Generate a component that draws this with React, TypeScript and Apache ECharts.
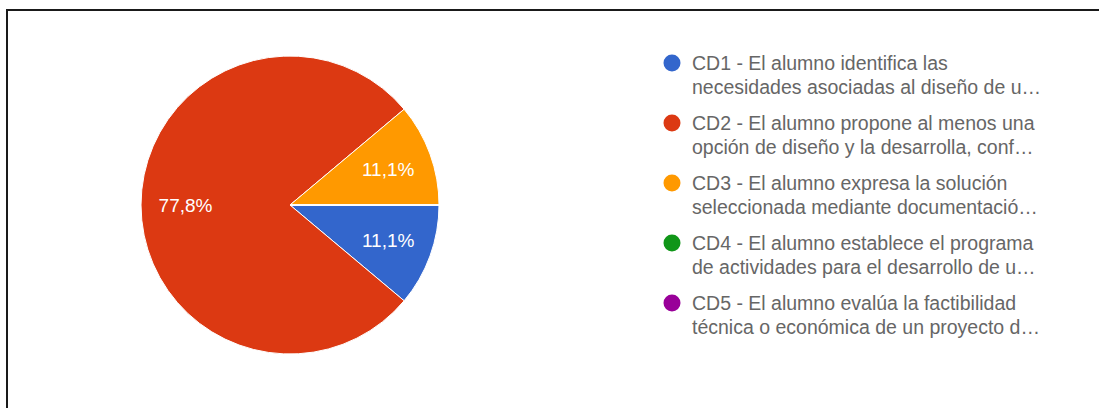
import React, { useEffect, useRef } from "react";
import * as echarts from "echarts";

const categories = ["CD1", "CD2", "CD3", "CD4", "CD5"];
const legendLine1 = [
  "CD1 - El alumno identifica las",
  "CD2 - El alumno propone al menos una",
  "CD3 - El alumno expresa la solución",
  "CD4 - El alumno establece el programa",
  "CD5 - El alumno evalúa la factibilidad",
];
const legendLine2 = [
  "necesidades asociadas al diseño de u…",
  "opción de diseño y la desarrolla, conf…",
  "seleccionada mediante documentació…",
  "de actividades para el desarrollo de u…",
  "técnica o económica de un proyecto d…",
];
const responses = [1, 7, 1, 0, 0];
const colors = ["#3366cc", "#dc3912", "#ff9900", "#109618", "#990099"];

const FONT = 'Arial, "Liberation Sans", sans-serif';

export default function App() {
  const ref = useRef<HTMLDivElement>(null);

  useEffect(() => {
    if (!ref.current) return;
    const chart = echarts.init(ref.current, undefined, { renderer: "svg" });
    const total = responses.reduce((a, b) => a + b, 0);
    const names = categories.map((_, i) => legendLine1[i] + "\n" + legendLine2[i]);
    const data = responses.map((v, i) => ({
      name: names[i],
      value: v,
      itemStyle: { color: colors[i] },
    }));
    const fmt = (p: any) =>
      p.value ? ((p.value / total) * 100).toFixed(1).replace(".", ",") + "%" : "";

    chart.setOption({
      animation: false,
      color: colors,
      legend: {
        data: names,
        orient: "vertical",
        left: 659,
        top: 51,
        padding: 0,
        itemGap: 12,
        itemWidth: 28,
        itemHeight: 48,
        selectedMode: false,
        icon: "path://M0 0 M13 3.5 A8.5 8.5 0 1 1 13 20.5 A8.5 8.5 0 1 1 13 3.5 Z M28 48",
        itemStyle: { borderWidth: 0 },
        textStyle: {
          color: "#666666",
          fontSize: 19.5,
          lineHeight: 24,
          fontFamily: FONT,
        },
      },
      series: [
        {
          type: "pie",
          center: [290, 205],
          radius: [0, 149],
          startAngle: 0,
          clockwise: true,
          silent: true,
          data,
          itemStyle: { borderColor: "#ffffff", borderWidth: 1 },
          label: { show: false },
          labelLine: { show: false },
          emphasis: { disabled: true },
        },
        {
          type: "pie",
          center: [290, 205],
          radius: [0, 203],
          startAngle: 0,
          clockwise: true,
          silent: true,
          z: 5,
          data: responses.map((v, i) => ({ name: names[i], value: v })),
          itemStyle: { color: "rgba(0,0,0,0)", borderWidth: 0 },
          label: {
            show: true,
            position: "inside",
            formatter: fmt,
            color: "#ffffff",
            fontSize: 19,
            fontFamily: FONT,
          },
          labelLine: { show: false },
          emphasis: { disabled: true },
        },
      ],
    });
    return () => chart.dispose();
  }, []);

  return (
    <div
      style={{
        position: "fixed",
        left: 0,
        top: 0,
        width: 1099,
        height: 408,
        overflow: "hidden",
        background: "#ffffff",
      }}
    >
      <div ref={ref} style={{ position: "absolute", left: 0, top: 0, width: 1099, height: 408 }} />
      <div
        style={{
          position: "absolute",
          left: 6,
          top: 9,
          width: 1200,
          height: 500,
          borderTop: "2px solid #1a1a1a",
          borderLeft: "2px solid #1a1a1a",
          pointerEvents: "none",
        }}
      />
    </div>
  );
}
